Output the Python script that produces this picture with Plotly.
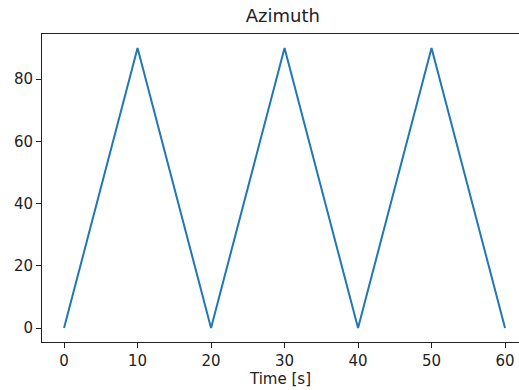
import plotly.graph_objects as go

time_s = [0, 10, 20, 30, 40, 50, 60]
azimuth = [0, 90, 0, 90, 0, 90, 0]
x_ticks = [0, 10, 20, 30, 40, 50, 60]
y_ticks = [0, 20, 40, 60, 80]

fig = go.Figure()
fig.add_trace(go.Scatter(x=time_s, y=azimuth, mode="lines",
                         line=dict(color="#1f77b4", width=2)))

font = dict(family="DejaVu Sans", size=15, color="#222222")
fig.update_layout(
    width=519, height=390,
    margin=dict(l=42, r=0, t=34, b=48),
    plot_bgcolor="white", paper_bgcolor="white",
    showlegend=False,
    font=font,
    title=dict(text="Azimuth", x=0.505, xref="paper", xanchor="center",
               y=1 - 16 / 390, yanchor="middle",
               font=dict(family="DejaVu Sans", size=18, color="#222222")),
    xaxis=dict(range=[-3, 61.9], tickvals=x_ticks, showgrid=False, zeroline=False,
               showline=True, linecolor="#222222", linewidth=1, mirror=True,
               ticks="outside", ticklen=5, tickcolor="#222222",
               title=dict(text="Time [s]", standoff=2, font=font)),
    yaxis=dict(range=[-4.5, 94.5], tickvals=y_ticks, showgrid=False, zeroline=False,
               showline=True, linecolor="#222222", linewidth=1,
               ticks="outside", ticklen=5, tickcolor="#222222"),
)
fig.write_html("out.html")
